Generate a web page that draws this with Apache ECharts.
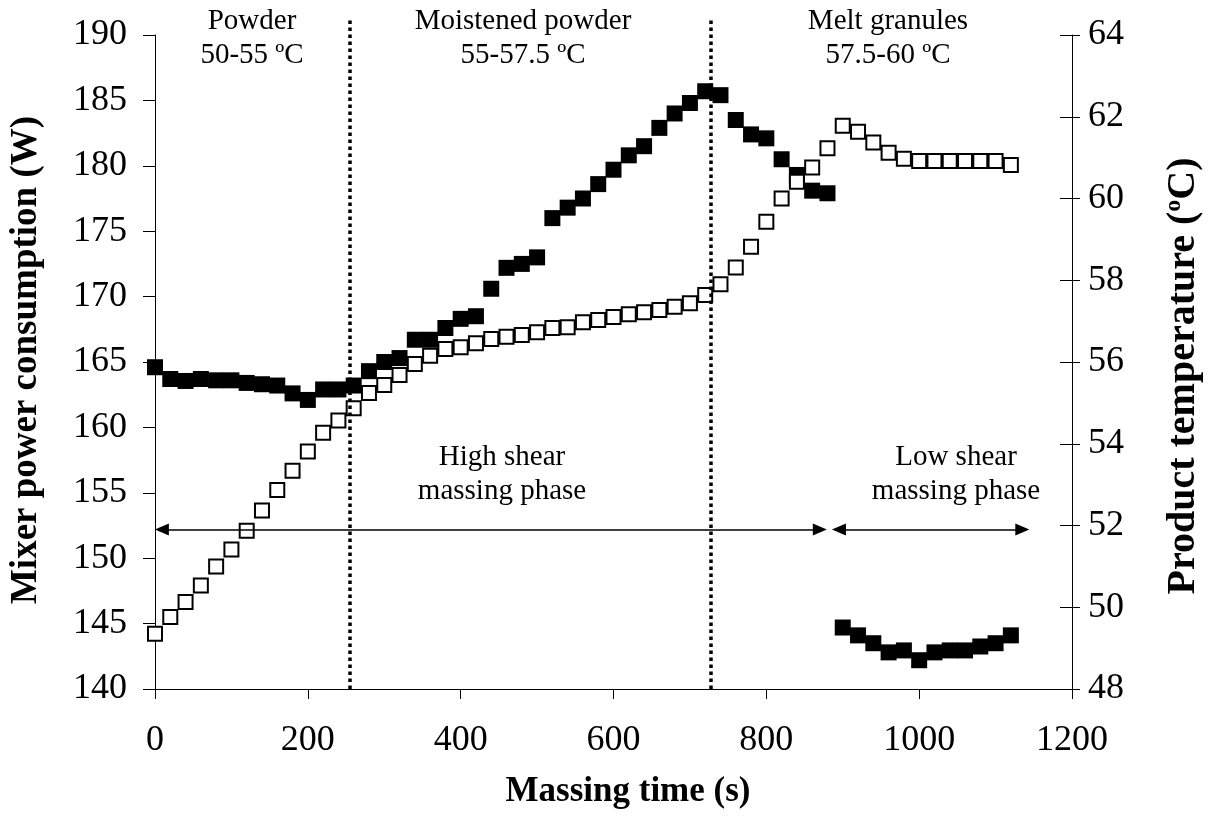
<!DOCTYPE html>
<html>
<head>
<meta charset="utf-8">
<script src="https://cdn.jsdelivr.net/npm/echarts@6/dist/echarts.min.js"></script>
<style>
  html, body { margin: 0; padding: 0; background: #fff; }
  #chart { width: 1209px; height: 838px; }
</style>
</head>
<body>
<div id="chart"></div>
<script>
// Massing time (s) of each sample
const massingTime = [
  0, 20, 40, 60, 80, 100, 120, 140, 160, 180, 200, 220, 240, 260, 280, 300,
  320, 340, 360, 380, 400, 420, 440, 460, 480, 500, 520, 540, 560, 580, 600,
  620, 640, 660, 680, 700, 720, 740, 760, 780, 800, 820, 840, 860, 880,
  900, 920, 940, 960, 980, 1000, 1020, 1040, 1060, 1080, 1100, 1120
];

// Mixer power consumption (W)
const mixerPower = [
  164.6, 163.7, 163.55, 163.7, 163.6, 163.6, 163.4, 163.3, 163.2, 162.6, 162.1,
  162.9, 162.9, 163.2, 164.3, 165.0, 165.3, 166.7, 166.7, 167.6, 168.3, 168.5,
  170.6, 172.2, 172.5, 173.0, 176.0, 176.8, 177.5, 178.6, 179.7, 180.8, 181.5,
  182.9, 184.0, 184.8, 185.7, 185.4, 183.5, 182.4, 182.1, 180.5, 179.3, 178.1,
  177.9,
  144.7, 144.1, 143.5, 142.8, 142.95, 142.2, 142.8, 142.95, 142.95, 143.25,
  143.5, 144.1
];

// Product temperature (°C)
const productTemp = [
  49.35, 49.76, 50.13, 50.53, 51.0, 51.41, 51.87, 52.37, 52.87, 53.34, 53.81,
  54.27, 54.57, 54.87, 55.24, 55.44, 55.68, 55.95, 56.15, 56.32, 56.36, 56.46,
  56.56, 56.62, 56.66, 56.73, 56.83, 56.85, 56.97, 57.03, 57.1, 57.17, 57.22,
  57.27, 57.35, 57.44, 57.64, 57.9, 58.31, 58.82, 59.43, 60.0, 60.41, 60.76,
  61.23, 61.78, 61.63, 61.37, 61.12, 60.97, 60.92, 60.92, 60.92, 60.92, 60.92,
  60.92, 60.82
];

// Stage boundaries (s) drawn as dotted lines
const stageBounds = [255, 727];
// Shear phase arrows: [start s, end s] of each shaft at the given power level (W)
const phaseArrows = [[9, 870], [895, 1135]];
const arrowLevel = 152.2;

// Axis scales
const xScale = { min: 0, max: 1200, interval: 200 };
const powerScale = { min: 140, max: 190, interval: 5 };
const tempScale = { min: 48, max: 64, interval: 2 };

const FONT = '"Liberation Serif", "Times New Roman", serif';

const powerPoints = massingTime.map((t, i) => [t, mixerPower[i]]);
const tempPoints = massingTime.map((t, i) => [t, productTemp[i]]);

// Dotted stage dividers live in an overlay grid that reaches a little above the plot
const dividerLines = stageBounds.map(t => [
  { coord: [t, 0], symbol: 'none' },
  { coord: [t, 1], symbol: 'none' }
]);

const arrowLines = phaseArrows.map(([a, b]) => [
  { coord: [a, arrowLevel], symbol: 'triangle', symbolSize: [12, 14], symbolRotate: 90 },
  { coord: [b, arrowLevel], symbol: 'triangle', symbolSize: [12, 14], symbolRotate: -90 }
]);

const axisLabelStyle = { color: '#000', fontFamily: FONT, fontSize: 36 };
const axisLineStyle = { show: true, lineStyle: { color: '#000', width: 1 } };
const plainNumber = v => String(v);

const chart = echarts.init(document.getElementById('chart'), null, { renderer: 'canvas' });
chart.setOption({
  backgroundColor: '#fff',
  animation: false,
  grid: [
    { left: 155, right: 137, top: 35, bottom: 149, containLabel: false, outerBoundsMode: 'none' },
    { left: 155, right: 137, top: 18, bottom: 149, containLabel: false, outerBoundsMode: 'none' }
  ],
  xAxis: [
    {
      gridIndex: 0, type: 'value', min: xScale.min, max: xScale.max, interval: xScale.interval,
      axisLine: axisLineStyle,
      axisTick: { show: true, length: 10, lineStyle: { color: '#000' } },
      axisLabel: Object.assign({ margin: 34, formatter: plainNumber }, axisLabelStyle),
      splitLine: { show: false }
    },
    {
      gridIndex: 1, type: 'value', min: xScale.min, max: xScale.max, show: false
    }
  ],
  yAxis: [
    {
      gridIndex: 0, type: 'value', position: 'left',
      min: powerScale.min, max: powerScale.max, interval: powerScale.interval,
      axisLine: axisLineStyle,
      axisTick: { show: true, length: 12, lineStyle: { color: '#000' } },
      axisLabel: Object.assign({ margin: 28, formatter: plainNumber }, axisLabelStyle),
      splitLine: { show: false }
    },
    {
      gridIndex: 0, type: 'value', position: 'right',
      min: tempScale.min, max: tempScale.max, interval: tempScale.interval,
      axisLine: axisLineStyle,
      axisTick: { show: true, length: 8, lineStyle: { color: '#000' } },
      axisLabel: Object.assign({ margin: 16, formatter: plainNumber }, axisLabelStyle),
      splitLine: { show: false }
    },
    {
      // inner half of the crossing ticks on the temperature axis
      gridIndex: 0, type: 'value', position: 'right',
      min: tempScale.min, max: tempScale.max, interval: tempScale.interval,
      axisLine: { show: false },
      axisTick: { show: true, inside: true, length: 12, lineStyle: { color: '#000' } },
      axisLabel: { show: false },
      splitLine: { show: false }
    },
    {
      gridIndex: 1, type: 'value', min: 0, max: 1, show: false
    }
  ],
  series: [
    {
      name: 'Mixer power consumption',
      type: 'scatter', xAxisIndex: 0, yAxisIndex: 0,
      data: powerPoints,
      symbol: 'rect', symbolSize: 16,
      itemStyle: { color: '#000', opacity: 1 },
      z: 2,
      markLine: {
        silent: true, animation: false, label: { show: false },
        lineStyle: { type: 'solid', width: 1.6, color: '#000' },
        data: arrowLines
      }
    },
    {
      name: 'Product temperature',
      type: 'scatter', xAxisIndex: 0, yAxisIndex: 1,
      data: tempPoints,
      symbol: 'rect', symbolSize: 14,
      itemStyle: { color: '#fff', borderColor: '#000', borderWidth: 2, opacity: 1 },
      z: 3
    },
    {
      name: 'Stage dividers',
      type: 'line', xAxisIndex: 1, yAxisIndex: 3,
      data: [], silent: true, z: 1,
      markLine: {
        silent: true, animation: false, label: { show: false },
        lineStyle: { type: [3.5, 3.5], width: 3.5, color: '#000' },
        data: dividerLines
      }
    }
  ],
  graphic: [
    { type: 'text', x: 252, y: 4, z: 10,
      style: { text: 'Powder\n50-55 ºC', align: 'center', font: '29px ' + FONT, lineHeight: 34, fill: '#000' } },
    { type: 'text', x: 523, y: 4, z: 10,
      style: { text: 'Moistened powder\n55-57.5 ºC', align: 'center', font: '29px ' + FONT, lineHeight: 34, fill: '#000' } },
    { type: 'text', x: 888, y: 4, z: 10,
      style: { text: 'Melt granules\n57.5-60 ºC', align: 'center', font: '29px ' + FONT, lineHeight: 34, fill: '#000' } },
    { type: 'text', x: 502, y: 440, z: 10,
      style: { text: 'High shear\nmassing phase', align: 'center', font: '29px ' + FONT, lineHeight: 34, fill: '#000' } },
    { type: 'text', x: 956, y: 440, z: 10,
      style: { text: 'Low shear\nmassing phase', align: 'center', font: '29px ' + FONT, lineHeight: 34, fill: '#000' } },
    { type: 'text', x: 628, y: 792, z: 10,
      style: { text: 'Massing time (s)', align: 'center', verticalAlign: 'middle',
               font: 'bold 35px ' + FONT, fill: '#000' } },
    { type: 'text', x: 26, y: 360, z: 10, rotation: Math.PI / 2,
      style: { text: 'Mixer power consumption (W)', align: 'center', verticalAlign: 'middle',
               font: 'bold 37px ' + FONT, fill: '#000' } },
    { type: 'text', x: 1184, y: 376, z: 10, rotation: Math.PI / 2,
      style: {
        text: '{a|Product temperature (}{s|o}{a|C)}', align: 'center', verticalAlign: 'middle',
        rich: {
          a: { font: 'bold 40px ' + FONT, fill: '#000' },
          s: { font: 'bold 24px ' + FONT, fill: '#000', padding: [0, 0, 20, 0] }
        }
      } }
  ]
});
</script>
</body>
</html>
